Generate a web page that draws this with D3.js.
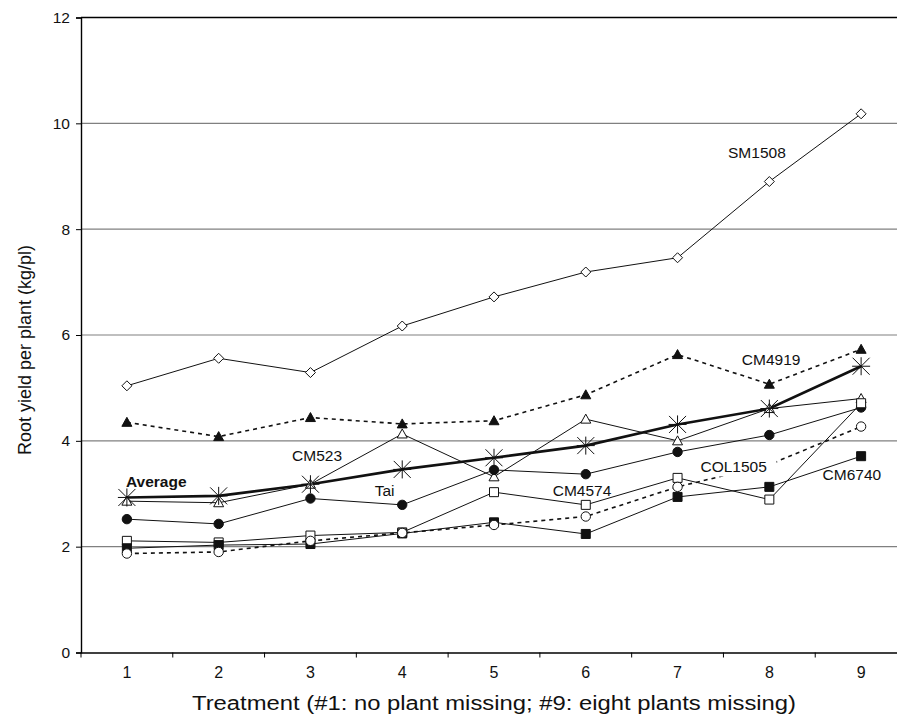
<!DOCTYPE html>
<html>
<head>
<meta charset="utf-8">
<script src="https://cdn.jsdelivr.net/npm/d3@7"></script>
<style>
  body { margin: 0; background: #fff; }
  svg { display: block; font-family: "Liberation Sans", Arial, sans-serif; }
</style>
</head>
<body>
<svg></svg>
<script>
let width = 897;
let height = 717;

// data
let treatments = ['1', '2', '3', '4', '5', '6', '7', '8', '9'];
let sm1508  = [5.04, 5.56, 5.29, 6.17, 6.72, 7.19, 7.46, 8.90, 10.18];
let cm4919  = [4.35, 4.08, 4.44, 4.32, 4.38, 4.87, 5.63, 5.07, 5.73];
let average = [2.93, 2.96, 3.18, 3.46, 3.68, 3.91, 4.31, 4.61, 5.41];
let cm523   = [2.86, 2.83, 3.18, 4.13, 3.32, 4.41, 4.00, 4.61, 4.80];
let tai     = [2.52, 2.43, 2.91, 2.79, 3.45, 3.37, 3.79, 4.11, 4.63];
let cm4574  = [2.11, 2.08, 2.21, 2.27, 3.03, 2.79, 3.30, 2.89, 4.71];
let cm6740  = [1.97, 2.03, 2.05, 2.25, 2.46, 2.24, 2.94, 3.13, 3.71];
let col1505 = [1.87, 1.90, 2.11, 2.26, 2.41, 2.57, 3.13, 3.55, 4.27];
let yTicks = [0, 2, 4, 6, 8, 10, 12];

// label spots, in (treatment, value) units
let labelNames = ['SM1508', 'CM4919', 'Average', 'CM523', 'Tai', 'CM4574', 'COL1505', 'CM6740'];
let labelT = [7.55, 7.70, 0.99, 2.80, 3.70, 5.64, 7.25, 8.58];
let labelV = [9.34, 5.43, 3.13, 3.62, 2.96, 2.96, 3.42, 3.26];

let series = [
  {name: 'SM1508',  values: sm1508,  marker: 'diamond',  filled: false, dashed: false},
  {name: 'CM4919',  values: cm4919,  marker: 'triangle', filled: true,  dashed: true},
  {name: 'CM523',   values: cm523,   marker: 'triangle', filled: false, dashed: false},
  {name: 'Tai',     values: tai,     marker: 'circle',   filled: true,  dashed: false},
  {name: 'CM4574',  values: cm4574,  marker: 'square',   filled: false, dashed: false},
  {name: 'CM6740',  values: cm6740,  marker: 'square',   filled: true,  dashed: false},
  {name: 'COL1505', values: col1505, marker: 'circle',   filled: false, dashed: true},
  {name: 'Average', values: average, marker: 'star',     filled: false, dashed: false, thick: true}
];

let plotLeft = 81, plotTop = 17.5, plotBottom = 652.5, plotRight = 907;

let svg = d3.select('svg')
            .attr('width', width)
            .attr('height', height);

let x = d3.scaleBand().domain(treatments).range([plotLeft, plotRight]);
let xl = d3.scaleLinear().domain([0.5, 9.5]).range([plotLeft, plotRight]);
let y = d3.scaleLinear().domain([0, 12]).range([plotBottom, plotTop]);

let cx = i => x(treatments[i]) + x.bandwidth() / 2;

// gridlines
svg.append('g')
   .selectAll('line')
   .data(yTicks.filter(d => d > 0 && d < 12))
   .enter()
   .append('line')
   .attr('x1', plotLeft).attr('x2', plotRight)
   .attr('y1', d => y(d)).attr('y2', d => y(d))
   .attr('stroke', '#808080')
   .attr('stroke-width', 1.2);

// top frame line
svg.append('line')
   .attr('x1', plotLeft).attr('x2', plotRight)
   .attr('y1', y(12)).attr('y2', y(12))
   .attr('stroke', '#000').attr('stroke-width', 1.4);

// y axis
let yAxis = svg.append('g')
   .attr('transform', 'translate(' + plotLeft + ',0)')
   .call(d3.axisLeft(y).tickValues(yTicks).tickSize(5).tickPadding(6).tickFormat(d3.format('d')));
yAxis.selectAll('text').style('font-size', '15.5px').attr('fill', '#111');

// x axis: labels centered, ticks between categories
let xAxis = svg.append('g')
   .attr('transform', 'translate(0,' + plotBottom + ')')
   .call(d3.axisBottom(x).tickSize(0).tickPadding(14));
xAxis.selectAll('text').style('font-size', '16px').attr('fill', '#111');
svg.append('g')
   .selectAll('line')
   .data(d3.range(0, 9))
   .enter()
   .append('line')
   .attr('x1', i => xl(i + 0.5)).attr('x2', i => xl(i + 0.5))
   .attr('y1', plotBottom).attr('y2', plotBottom + 5)
   .attr('stroke', '#000');

svg.selectAll('.domain').attr('stroke', '#000').attr('stroke-width', 1.4);

// axis titles
svg.append('text')
   .attr('x', 494)
   .attr('y', 710)
   .attr('text-anchor', 'middle')
   .attr('textLength', 604)
   .attr('lengthAdjust', 'spacingAndGlyphs')
   .style('font-size', '20px')
   .attr('fill', '#111')
   .text('Treatment (#1: no plant missing; #9: eight plants missing)');

svg.append('text')
   .attr('transform', 'translate(31,' + 350 + ') rotate(-90)')
   .attr('text-anchor', 'middle')
   .style('font-size', '18px')
   .attr('fill', '#111')
   .text('Root yield per plant (kg/pl)');

// lines
let line = d3.line()
   .x((d, i) => cx(i))
   .y(d => y(d));

svg.append('g')
   .selectAll('path')
   .data(series)
   .enter()
   .append('path')
   .attr('d', d => line(d.values))
   .attr('fill', 'none')
   .attr('stroke', '#111')
   .attr('stroke-width', d => d.thick ? 2.6 : (d.dashed ? 1.6 : 1))
   .attr('stroke-dasharray', d => d.dashed ? '4 4' : null);

// markers
function markerPath(type) {
  let p = d3.path();
  if (type == 'diamond') {
    p.moveTo(0, -5); p.lineTo(5, 0); p.lineTo(0, 5); p.lineTo(-5, 0); p.closePath();
  } else if (type == 'triangle') {
    p.moveTo(0, -5); p.lineTo(5, 4); p.lineTo(-5, 4); p.closePath();
  } else if (type == 'square') {
    p.rect(-4.5, -4.5, 9, 9);
  } else if (type == 'circle') {
    p.arc(0, 0, 4.7, 0, 2 * Math.PI);
  } else if (type == 'star') {
    p.moveTo(0, -9); p.lineTo(0, 9);
    p.moveTo(-8.5, -8.5); p.lineTo(8.5, 8.5);
    p.moveTo(-8.5, 8.5); p.lineTo(8.5, -8.5);
    p.moveTo(-9, 0); p.lineTo(9, 0);
  }
  return p.toString();
}

series.forEach(s => {
  svg.append('g')
     .selectAll('path')
     .data(s.values)
     .enter()
     .append('path')
     .attr('transform', (d, i) => 'translate(' + cx(i) + ',' + y(d) + ')')
     .attr('d', markerPath(s.marker))
     .attr('fill', s.marker == 'star' ? 'none' : (s.filled ? '#111' : '#fff'))
     .attr('stroke', '#111')
     .attr('stroke-width', 1);
});

// series labels
let labels = svg.append('g')
   .selectAll('g')
   .data(labelNames)
   .enter()
   .append('g')
   .attr('transform', (d, i) => 'translate(' + xl(labelT[i]) + ',' + y(labelV[i]) + ')');

// COL1505 label sits on a white box over its own line
labels.filter(d => d == 'COL1505')
   .append('rect')
   .attr('x', -2).attr('y', -15)
   .attr('width', 78).attr('height', 20)
   .attr('fill', '#fff');

labels.append('text')
   .style('font-size', '15.5px')
   .style('font-weight', d => d == 'Average' ? 'bold' : 'normal')
   .attr('fill', '#111')
   .text(d => d);
</script>
</body>
</html>
